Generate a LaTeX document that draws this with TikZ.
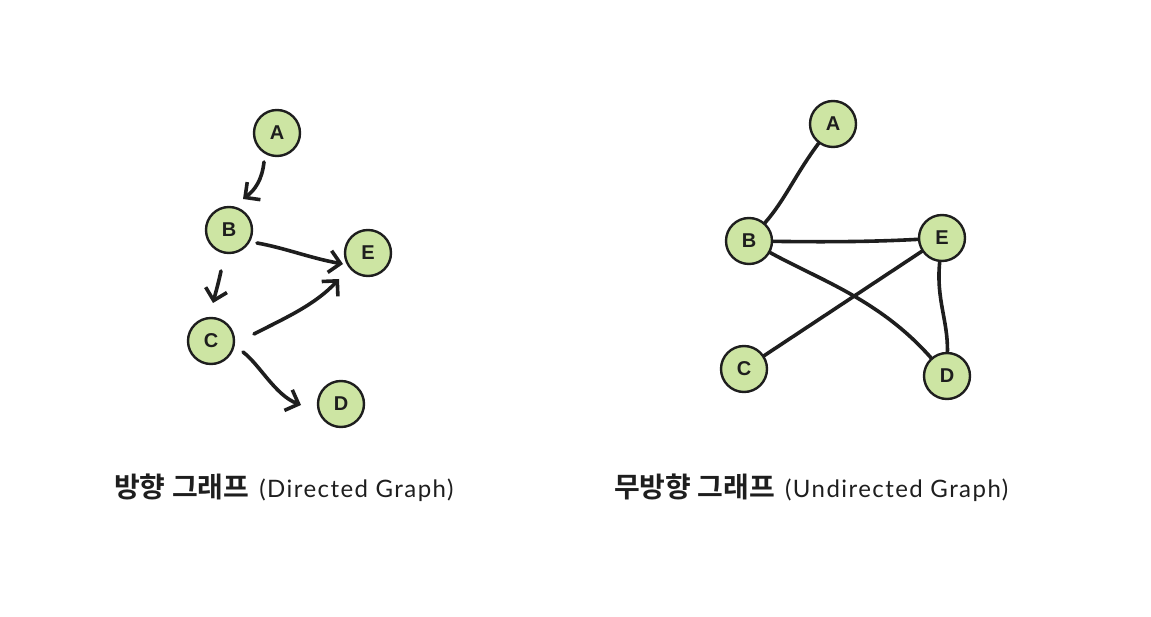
\documentclass[tikz,border=0pt]{standalone}
\usepackage{fontspec}
\newfontfamily\kofont{Noto Sans CJK KR}[BoldFont={Noto Sans CJK KR Bold}]
\newfontfamily\enfont{Lato}[LetterSpace=6]
\newfontfamily\nodefont{Liberation Sans}
\usetikzlibrary{arrows.meta}
\definecolor{nodefill}{HTML}{CDE5A3}
\definecolor{ink}{HTML}{1E1E1E}
\tikzset{
  vert/.style={circle, draw=ink, fill=nodefill, line width=2.4pt, minimum size=46pt, inner sep=0pt,
    font=\nodefont\bfseries\fontsize{20}{20}\selectfont, text=ink},
  edge/.style={draw=ink, line width=3.6pt, line cap=round, line join=round},
  arr/.style={edge, -{Straight Barb[length=11pt,width=22pt,line width=3.6pt]}},
  captext/.style={text=ink, anchor=base west, inner sep=0pt}
}
\begin{document}
\begin{tikzpicture}[x=1pt,y=-1pt]
\useasboundingbox (0,0) rectangle (1151,617);
% left graph
\node[vert] (lA) at (277,133) {A};
\node[vert] (lB) at (229,230) {B};
\node[vert] (lE) at (368,253) {E};
\node[vert] (lC) at (211,341) {C};
\node[vert] (lD) at (341,404) {D};
\coordinate (tAB) at (243,199);
\coordinate (tBE) at (343,264);
\coordinate (tBC) at (213,303);
\coordinate (tCE) at (339,279);
\coordinate (tCD) at (301,405);
\draw[arr] (264,162) .. controls (262,180) and (255,190) .. (tAB);
\draw[arr] (257,243) .. controls (285,248) and (310,258) .. (tBE);
\draw[arr] (221,271) .. controls (218,285) and (215,295) .. (tBC);
\draw[arr] (254,334) .. controls (285,318) and (315,305) .. (tCE);
\draw[arr] (243,352) .. controls (260,365) and (275,395) .. (tCD);
% right graph
\node[vert] (rA) at (833,124) {A};
\node[vert] (rB) at (749,241) {B};
\node[vert] (rE) at (942,238) {E};
\node[vert] (rC) at (744,369) {C};
\node[vert] (rD) at (947,376) {D};
\draw[edge] (rA) .. controls (795,175) and (785,200) .. (rB);
\draw[edge] (rB) .. controls (820,242) and (870,242) .. (rE);
\draw[edge] (rB) .. controls (820,280) and (880,300) .. (rD);
\draw[edge] (rE) -- (rC);
\draw[edge] (rE) .. controls (936,300) and (948,320) .. (rD);
% captions
\node[captext] (capL) at (114,497) {{\kofont\bfseries\fontsize{28}{28}\selectfont 방향 그래프}\hspace{10pt}{\enfont\fontsize{24}{24}\selectfont(Directed Graph)}};
\node[captext] (capR) at (614,497) {{\kofont\bfseries\fontsize{28}{28}\selectfont 무방향 그래프}\hspace{10pt}{\enfont\fontsize{24}{24}\selectfont(Undirected Graph)}};
\end{tikzpicture}
\end{document}
